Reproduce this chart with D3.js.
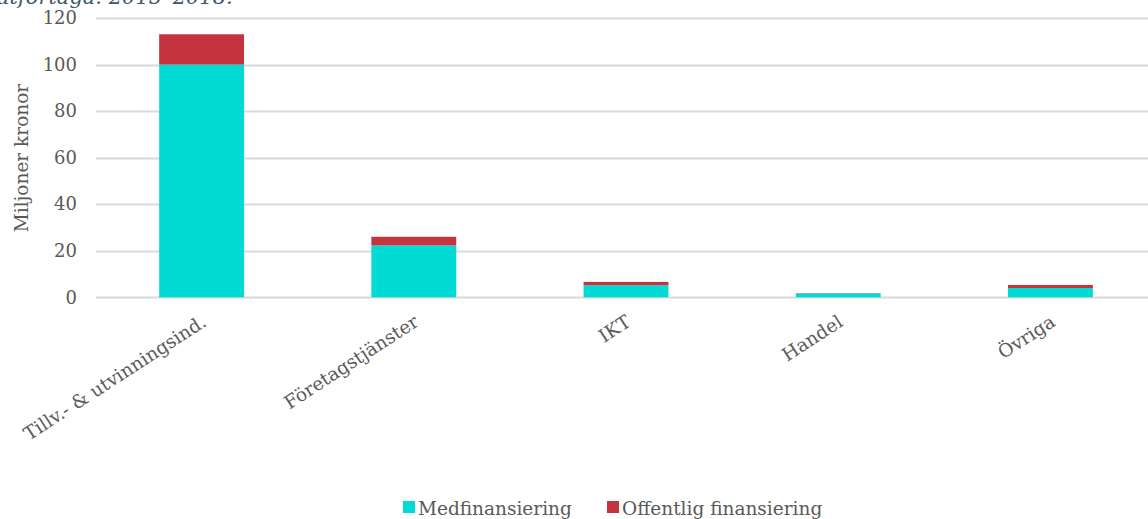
<!DOCTYPE html>
<html>
<head>
<meta charset="utf-8">
<script src="https://cdn.jsdelivr.net/npm/d3@7"></script>
<style>
  body { margin: 0; background: #fff; }
  svg { display: block; font-family: "DejaVu Serif", Georgia, serif; }
</style>
</head>
<body>
<div id="chart"></div>
<script>
// branscher och belopp (miljoner kronor)
var categories = ["Tillv.- & utvinningsind.", "Företagstjänster", "IKT", "Handel", "Övriga"];
var medfinansiering = [100, 22.3, 5.2, 1.7, 4.0];
var offentlig = [13, 3.7, 1.4, 0.1, 1.3];
var seriesNames = ["Medfinansiering", "Offentlig finansiering"];
var colors = ["#00dcd5", "#c4343f"];
var yTicks = [0, 20, 40, 60, 80, 100, 120];

var W = 1148, H = 519;
var svg = d3.select("#chart").append("svg").attr("width", W).attr("height", H);

var rows = categories.map(function (c, i) {
  return { cat: c, Medfinansiering: medfinansiering[i], "Offentlig finansiering": offentlig[i] };
});
var stacked = d3.stack().keys(seriesNames)(rows);

var x = d3.scaleBand().domain(categories).range([95.5, 1156.5])
  .paddingInner(0.6).paddingOuter(0.3);
var y = d3.scaleLinear().domain([0, 120]).range([297.3, 18]);

// titel (avklippt i överkant som i originalet)
svg.append("text")
  .attr("x", -4).attr("y", 4)
  .style("font-style", "italic")
  .style("font-size", "21px")
  .style("fill", "#44546a")
  .text("utförtaga. 2015–2018.");

// stödlinjer
svg.append("g").selectAll("line").data(yTicks).enter().append("line")
  .attr("x1", 96).attr("x2", W)
  .attr("y1", function (d) { return Math.round(y(d)) + 0.5; })
  .attr("y2", function (d) { return Math.round(y(d)) + 0.5; })
  .style("stroke", "#d9d9d9").style("stroke-width", 2);

// y-axel
var yAxis = svg.append("g").attr("transform", "translate(77,0)")
  .call(d3.axisLeft(y).tickValues(yTicks).tickSize(0).tickPadding(0));
yAxis.select(".domain").remove();
yAxis.selectAll("text")
  .style("font-family", "DejaVu Serif, Georgia, serif")
  .style("font-size", "18px").style("fill", "#595959");

svg.append("text")
  .attr("transform", "translate(28,158) rotate(-90)")
  .attr("text-anchor", "middle")
  .style("font-size", "18.5px").style("fill", "#595959")
  .text("Miljoner kronor");

// staplar
svg.append("g").selectAll("g").data(stacked).enter().append("g")
  .style("fill", function (d, i) { return colors[i]; })
  .selectAll("rect").data(function (d) { return d; }).enter().append("rect")
  .attr("x", function (d) { return x(d.data.cat); })
  .attr("width", x.bandwidth())
  .attr("y", function (d) { return y(d[1]); })
  .attr("height", function (d) { return y(d[0]) - y(d[1]); });

// x-axel
var xAxis = svg.append("g").attr("transform", "translate(0,297)")
  .call(d3.axisBottom(x).tickSize(0).tickPadding(0));
xAxis.select(".domain").remove();
xAxis.selectAll("text")
  .attr("text-anchor", "end")
  .attr("dy", null)
  .attr("transform", "translate(6,28) rotate(-33)")
  .attr("y", 0)
  .style("font-family", "DejaVu Serif, Georgia, serif")
  .style("font-size", "18.5px").style("fill", "#595959");

// förklaring
var legend = svg.append("g");
var lx = [403, 607];
seriesNames.forEach(function (s, i) {
  legend.append("rect").attr("x", lx[i]).attr("y", 501).attr("width", 12).attr("height", 12)
    .style("fill", colors[i]);
  legend.append("text").attr("x", lx[i] + 15).attr("y", 515)
    .style("font-size", "18.5px").style("fill", "#595959").text(s);
});
</script>
</body>
</html>
